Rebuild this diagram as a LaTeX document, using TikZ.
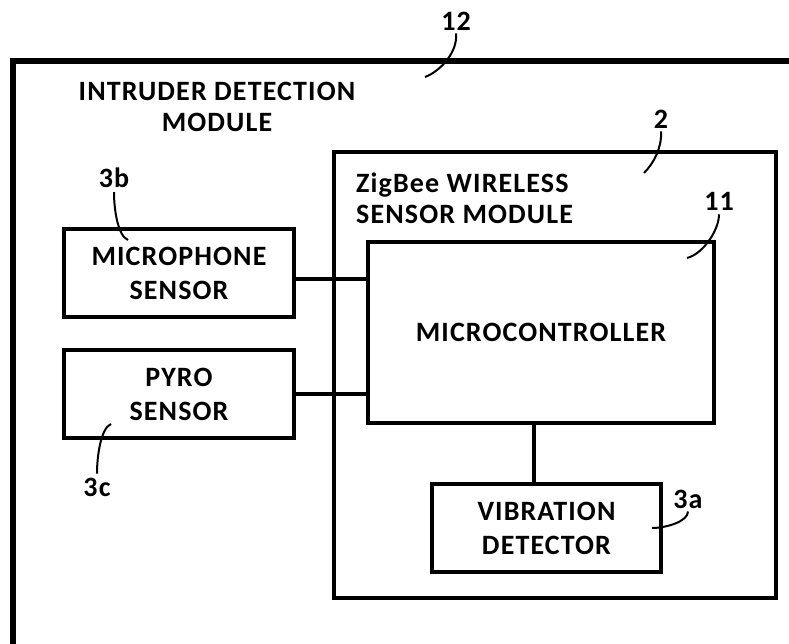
\documentclass[tikz,border=0pt]{standalone}
\usepackage{fontspec}
\setmainfont{Carlito}
\newfontfamily\diagfont[LetterSpace=4]{Carlito}
\usetikzlibrary{positioning}

\begin{document}
\begin{tikzpicture}[x=1pt, y=-1pt,
    block/.style={draw, line width=4.5pt, minimum width=230pt, minimum height=88pt, align=center, inner sep=0pt, font=\diagfont\bfseries\fontsize{28}{34}\selectfont},
    title/.style={align=left, inner sep=0pt, font=\diagfont\bfseries\fontsize{28}{31}\selectfont},
    wire/.style={line width=3.5pt},
    leader/.style={line width=2pt},
    tag/.style={inner sep=0pt, font=\diagfont\bfseries\fontsize{28}{30}\selectfont}
]
    \useasboundingbox (0,0) rectangle (789,644);
    \clip (0,0) rectangle (789,644);

    % outer module, running past the page edge
    \draw[line width=5.5pt] (13,61) rectangle (830,690);
    \node[title, align=center] (idm) at (217,107) {INTRUDER DETECTION\\MODULE};

    % ZigBee module
    \node[block, minimum width=442pt, minimum height=446pt] (zig) at (555,375) {};
    \node[title, anchor=west] (zigtxt) at (356,198) {ZigBee WIRELESS\\SENSOR MODULE};

    \node[block, minimum width=346pt, minimum height=181pt] (mcu) at (541,332.5) {MICROCONTROLLER};
    \node[block, minimum width=229pt] (vib) at (546.5,528) {VIBRATION\\DETECTOR};
    \node[block] (mic) at (179,273) {MICROPHONE\\SENSOR};
    \node[block] (pyro) at (179,394) {PYRO\\SENSOR};

    \draw[wire] ([yshift=-6pt]mic.east) -- ([yshift=-6pt]mic.east -| mcu.west);
    \draw[wire] (pyro.east) -- (pyro.east -| mcu.west);
    \draw[wire] ([xshift=-7pt]mcu.south) -- ([xshift=-7pt]mcu.south |- vib.north);

    % reference numerals
    \node[tag] (l12) at (456,21) {12};
    \node[tag] (l2) at (661,119) {2};
    \node[tag] (l11) at (719,201) {11};
    \node[tag] (l3b) at (114,178) {3b};
    \node[tag] (l3c) at (97,487) {3c};
    \node[tag] (l3a) at (688,499) {3a};

    \coordinate (p12) at (425,77);
    \coordinate (p2) at (644,173);
    \coordinate (p11) at (687,258);
    \coordinate (p3b) at (128,240);
    \coordinate (p3c) at (111,424);
    \coordinate (p3a) at (652,528);

    \draw[leader] ([yshift=-3pt]l12.south) .. controls +(2,18) and +(16,-6) .. (p12);
    \draw[leader] ([yshift=-3pt]l2.south) .. controls +(1,16) and +(10,-10) .. (p2);
    \draw[leader] ([yshift=-4pt]l11.south) .. controls +(0,16) and +(16,-4) .. (p11);
    \draw[leader] ([yshift=-4pt]l3b.south) .. controls +(0,18) and +(-10,-4) .. (p3b);
    \draw[leader] ([yshift=4pt]l3c.north) .. controls +(0,-18) and +(-10,4) .. (p3c);
    \draw[leader] ([yshift=-3pt]l3a.south) .. controls +(0,10) and +(14,0) .. (p3a);
\end{tikzpicture}
\end{document}
